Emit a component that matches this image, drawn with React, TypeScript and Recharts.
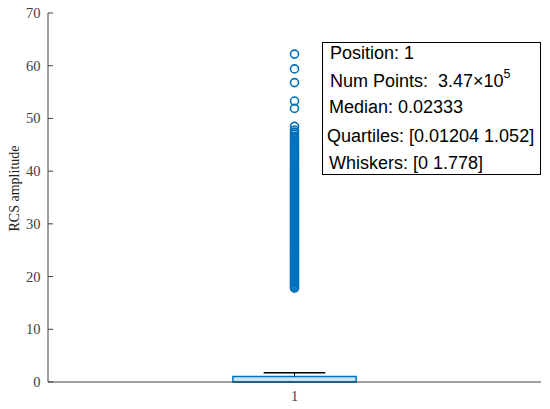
import {
  ComposedChart,
  Scatter,
  XAxis,
  YAxis,
  ReferenceArea,
  ReferenceLine,
} from "recharts";

const categories = ["1"];
const yTicks = [0, 10, 20, 30, 40, 50, 60, 70];
const quartiles = [0.01204, 1.052];
const median = 0.02333;
const whiskers = [0, 1.778];

// outliers above the upper whisker (dense column from ~18 up to ~48, a few higher)
const outliers = [
  17.8, 18.05, 18.3, 18.54, 18.8, 19.03, 19.28, 19.52, 19.77, 20.0, 20.26, 20.5, 20.74,
  20.99, 21.23, 21.48, 21.72, 21.97, 22.21, 22.46, 22.7, 22.95, 23.19, 23.44, 23.68,
  23.93, 24.17, 24.42, 24.66, 24.91, 25.15, 25.4, 25.64, 25.89, 26.13, 26.38, 26.62,
  26.87, 27.11, 27.36, 27.6, 27.85, 28.09, 28.34, 28.58, 28.83, 29.07, 29.32, 29.56,
  29.81, 30.05, 30.3, 30.54, 30.79, 31.03, 31.28, 31.52, 31.77, 32.01, 32.26, 32.5,
  32.75, 32.99, 33.24, 33.48, 33.73, 33.97, 34.22, 34.46, 34.71, 34.95, 35.2, 35.44,
  35.69, 35.93, 36.18, 36.42, 36.67, 36.91, 37.16, 37.4, 37.65, 37.89, 38.14, 38.38,
  38.63, 38.87, 39.12, 39.36, 39.61, 39.85, 40.1, 40.4, 40.65, 41.0, 41.3, 41.5, 41.9,
  42.2, 42.45, 42.8, 43.1, 43.35, 43.7, 44.0, 44.3, 44.6, 44.9, 45.2, 45.6, 45.9, 46.3,
  46.6, 47.0, 47.4, 47.8, 48.5, 51.9, 53.3, 56.8, 59.4, 62.2,
];

const infoLines = [
  "Position: 1",
  "Num Points:\u00a0\u00a03.47\u00d710",
  "Median: 0.02333",
  "Quartiles: [0.01204 1.052]",
  "Whiskers: [0 1.778]",
];

const BLUE = "#0072BD";
const AXIS = "#404040";
const SERIF = "'Liberation Serif', 'Times New Roman', serif";
const SANS = "'Liberation Sans', Arial, sans-serif";

const points = outliers.map((v) => ({ x: 1, y: v }));

const OutlierDot = (props: any) => {
  const { cx, cy } = props;
  return <circle cx={cx} cy={cy} r={4} fill="none" stroke={BLUE} strokeWidth={1.6} />;
};

// MATLAB style: tick marks point inward
const YTick = (props: any) => {
  const { x, y, payload } = props;
  return (
    <g>
      <line x1={48} x2={53} y1={y} y2={y} stroke={AXIS} strokeWidth={1} />
      <text x={x - 0.5} y={y} dy={5} textAnchor="end" fill={AXIS} fontSize={14.5} fontFamily={SERIF}>
        {payload.value}
      </text>
    </g>
  );
};

const XTick = (props: any) => {
  const { x, y } = props;
  return (
    <text x={x} y={y} dy={11} textAnchor="middle" fill={AXIS} fontSize={14.5} fontFamily={SERIF}>
      {categories[0]}
    </text>
  );
};

export default function App() {
  return (
    <div style={{ position: "absolute", left: 0, top: 0, width: 550, height: 409, background: "#fff" }}>
      <ComposedChart
        width={550}
        height={409}
        data={points}
        margin={{ top: 13, right: 9, left: 0, bottom: 0 }}
      >
        <XAxis
          type="number"
          dataKey="x"
          domain={[0, 2]}
          ticks={[1]}
          height={27}
          tickLine={false}
          axisLine={{ stroke: AXIS, strokeWidth: 1 }}
          tick={<XTick />}
          tickMargin={2}
        />
        <YAxis
          type="number"
          dataKey="y"
          domain={[0, 70]}
          ticks={yTicks}
          width={48}
          tickSize={5}
          tickLine={false}
          axisLine={{ stroke: AXIS, strokeWidth: 1 }}
          tick={<YTick />}
          label={{
            value: "RCS amplitude",
            angle: -90,
            position: "insideLeft",
            dx: 9,
            dy: -9,
            style: { fill: "#222", fontSize: 14, fontFamily: SERIF, textAnchor: "middle" },
          }}
        />
        <ReferenceArea
          x1={0.75}
          x2={1.25}
          y1={quartiles[0]}
          y2={quartiles[1]}
          fill={BLUE}
          fillOpacity={0.2}
          stroke={BLUE}
          strokeWidth={1.5}
          strokeOpacity={1}
        />
        <ReferenceLine
          segment={[{ x: 0.75, y: median }, { x: 1.25, y: median }]}
          stroke={BLUE}
          strokeWidth={1.5}
        />
        <ReferenceLine
          segment={[{ x: 1, y: quartiles[1] }, { x: 1, y: whiskers[1] }]}
          stroke="#000"
          strokeWidth={1}
        />
        <ReferenceLine
          segment={[{ x: 0.875, y: whiskers[1] }, { x: 1.125, y: whiskers[1] }]}
          stroke="#000"
          strokeWidth={1.5}
        />
        <Scatter data={points} shape={<OutlierDot />} isAnimationActive={false} />
      </ComposedChart>
      <svg
        width={550}
        height={409}
        style={{ position: "absolute", left: 0, top: 0, pointerEvents: "none" }}
      >
        <rect x={322.5} y={42.5} width={218} height={132} fill="#fff" stroke="#000" strokeWidth={1} />
        <g fontFamily={SANS} fontSize={18} fill="#000">
          <text x={330} y={59}>{infoLines[0]}</text>
          <text x={330} y={87}>
            {infoLines[1]}
            <tspan fontSize={12.5} dy={-9}>5</tspan>
          </text>
          <text x={329} y={113}>{infoLines[2]}</text>
          <text x={327} y={141.5}>{infoLines[3]}</text>
          <text x={329} y={169}>{infoLines[4]}</text>
        </g>
      </svg>
    </div>
  );
}
